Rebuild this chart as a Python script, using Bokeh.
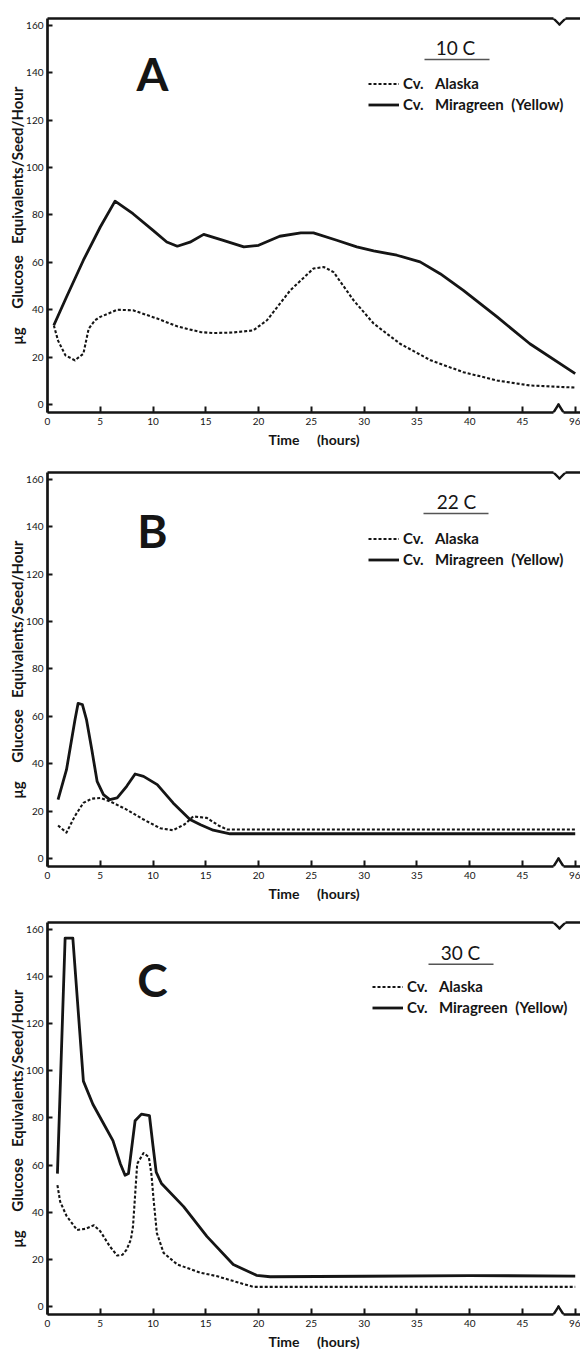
from bokeh.plotting import figure
from bokeh.models import (Range1d, FixedTicker, Label, Arrow, ColumnDataSource,
                          Legend, LegendItem, LinearAxis)
from bokeh.layouts import column
from bokeh.embed import file_html
from bokeh.resources import INLINE

# ---------------- data: hours -> ug glucose equivalents / seed / hour ----------------
a_alaska_h = [0.6, 1.0, 1.7, 2.6, 3.4, 3.9, 4.5, 5.0, 6.6, 8.1, 10.4, 12.3, 14.5, 15.7,
              17.5, 19.5, 20.8, 23.0, 25.2, 26.2, 27.1, 29.0, 30.9, 33.4, 36.3, 39.4,
              42.6, 45.7, 96]
a_alaska_v = [33.4, 27.0, 20.8, 18.7, 21.5, 32.0, 35.6, 37.0, 40.0, 39.8, 36.3, 33.0, 30.6,
              30.2, 30.4, 31.3, 35.6, 48.2, 57.4, 58.0, 55.9, 44.0, 34.2, 25.7, 18.7, 13.7,
              10.2, 8.1, 7.2]
a_mira_h = [0.6, 1.8, 3.4, 5.0, 6.4, 8.1, 10.0, 11.3, 12.3, 13.5, 14.8, 16.5, 18.6, 20.0,
            22.0, 24.0, 25.2, 27.4, 29.3, 30.9, 33.1, 35.3, 37.2, 39.4, 42.6, 45.7, 96]
a_mira_v = [33.5, 45.4, 60.9, 74.9, 85.8, 80.5, 73.5, 68.6, 66.8, 68.5, 71.8, 69.5, 66.5,
            67.2, 71.0, 72.4, 72.4, 69.3, 66.5, 64.8, 63.0, 60.2, 55.2, 48.2, 37.0, 25.7,
            13.1]

b_alaska_h = [1.0, 1.8, 2.6, 3.4, 4.2, 5.0, 5.9, 7.5, 9.1, 10.7, 11.9, 13.0, 13.8, 15.1,
              16.2, 17.0, 20.0, 96]
b_alaska_v = [14.0, 11.0, 18.0, 23.5, 25.3, 25.6, 24.2, 20.7, 16.5, 12.8, 12.0, 14.5, 17.8,
              17.2, 14.0, 12.3, 12.3, 12.3]
b_mira_h = [1.0, 1.8, 2.6, 2.9, 3.3, 3.7, 4.2, 4.7, 5.3, 5.9, 6.6, 7.5, 8.3, 9.1, 10.4,
            11.9, 13.5, 14.5, 15.7, 17.3, 20.0, 96]
b_mira_v = [24.9, 37.5, 58.5, 65.5, 65.0, 58.5, 45.9, 32.6, 27.0, 24.9, 25.6, 30.5, 35.7,
            34.7, 31.2, 23.5, 16.5, 14.3, 12.0, 10.5, 10.5, 10.5]

c_alaska_h = [0.94, 1.2, 1.8, 2.8, 3.6, 4.4, 5.0, 5.9, 6.6, 7.1, 7.5, 7.9, 8.1, 8.5, 9.1,
              9.6, 9.85, 10.04, 10.36, 11.0, 12.3, 14.5, 16.0, 19.5, 96]
c_alaska_v = [51.5, 44.5, 38.5, 32.5, 33.0, 34.5, 32.0, 25.6, 21.7, 22.0, 24.2, 28.5, 34.0,
              60.6, 65.1, 63.4, 56.0, 46.0, 31.2, 22.8, 17.9, 14.4, 13.0, 8.4, 8.4]
c_mira_h = [0.94, 1.67, 2.4, 3.4, 4.3, 5.2, 6.2, 6.9, 7.35, 7.67, 8.3, 8.9, 9.66, 10.0,
            10.3, 10.8, 12.9, 15.1, 17.6, 19.8, 21.1, 30.0, 40.0, 96]
c_mira_v = [56.4, 156.2, 156.2, 95.6, 85.8, 78.5, 70.4, 60.6, 55.7, 56.4, 78.8, 81.6, 81.0,
            68.0, 57.0, 52.2, 42.4, 29.8, 17.9, 13.3, 12.7, 12.9, 13.2, 13.0]

panel_letters = ["A", "B", "C"]
temperatures = ["10 C", "22 C", "30 C"]
series_names = ["Cv.\u2003Alaska", "Cv.\u2003Miragreen\u2002(Yellow)"]

x_ticks = [0, 5, 10, 15, 20, 25, 30, 35, 40, 45, 96]
y_ticks = [0, 20, 40, 60, 80, 100, 120, 140, 160]
x_title = "Time\u2003\u2002(hours)"
y_title = "\u03bcg\u2003\u2002Glucose\u2003Equivalents/Seed/Hour"

# ---------------- layout / style ----------------
FONT = "Lato"
INK = "#151515"
X_START, X_END = 0.0, 50.5
Y_START, Y_END = -3.3, 162.8
FRAME_W, FRAME_H = 533, 394
BORDER_LEFT = 47
BREAK_AT = 48.0
POS_96 = 50.0
EDGE_W = 2.7

PPX = FRAME_W / (X_END - X_START)
PPY = FRAME_H / (Y_END - Y_START)


def xpos(hours):
    return [h if h <= BREAK_AT else POS_96 for h in hours]


def dx(px):          # pixels from frame left -> data x
    return X_START + px / PPX


def dy(px):          # pixels from frame top -> data y
    return Y_END - px / PPY


def zig_source(pts):
    return ColumnDataSource(dict(
        x0=[dx(a[0]) for a in pts[:-1]], y0=[dy(a[1]) for a in pts[:-1]],
        x1=[dx(a[0]) for a in pts[1:]], y1=[dy(a[1]) for a in pts[1:]]))


# break marks (frame-relative pixels): top dips into the plot, bottom peaks up
TOP_ZIG = [(506, 0), (512, 6), (518, 0)]
BOT_ZIG = [(506, FRAME_H), (511, FRAME_H - 8), (516, FRAME_H)]

panel_cfg = [
    dict(top=18, bottom=43, title_x=408, title_y=28.5, ul=(377, 442, 41), leg_x=321,
         row1=65, letter_y=55),
    dict(top=17, bottom=39, title_x=409, title_y=29, ul=(376, 441, 41), leg_x=321,
         row1=66, letter_y=58),
    dict(top=17, bottom=36, title_x=413, title_y=30, ul=(381, 446, 42), leg_x=325,
         row1=66, letter_y=57),
]
data = [
    (a_alaska_h, a_alaska_v, a_mira_h, a_mira_v),
    (b_alaska_h, b_alaska_v, b_mira_h, b_mira_v),
    (c_alaska_h, c_alaska_v, c_mira_h, c_mira_v),
]


def make_panel(i):
    cfg = panel_cfg[i]
    ah, av, mh, mv = data[i]
    p = figure(width=BORDER_LEFT + FRAME_W, height=cfg["top"] + FRAME_H + cfg["bottom"],
               x_range=Range1d(X_START, X_END), y_range=Range1d(Y_START, Y_END),
               output_backend="svg", toolbar_location=None,
               min_border_left=BORDER_LEFT, min_border_right=0,
               min_border_top=cfg["top"], min_border_bottom=cfg["bottom"],
               background_fill_color="white", border_fill_color="white",
               outline_line_color=None)
    p.grid.visible = False

    r_a = p.line(xpos(ah), av, line_color=INK, line_width=2.1, line_dash="3 2",
                 line_join="round")
    r_m = p.line(xpos(mh), mv, line_color=INK, line_width=2.8, line_join="round")

    # x axis: bottom edge of the box, ticks pointing inward, gap at the axis break
    xa = p.xaxis[0]
    xa.ticker = FixedTicker(ticks=xpos(x_ticks))
    xa.major_label_overrides = {int(POS_96): "96"}
    xa.axis_line_color = INK
    xa.axis_line_width = EDGE_W
    xa.axis_line_dash = "%d %d" % (BOT_ZIG[0][0], BOT_ZIG[-1][0] - BOT_ZIG[0][0])
    xa.major_tick_in = 6
    xa.major_tick_out = 0
    xa.major_tick_line_width = 2
    xa.major_tick_line_color = INK
    xa.minor_tick_line_color = None
    xa.major_label_standoff = 5
    xa.major_label_text_font = FONT
    xa.major_label_text_font_size = "10px"
    xa.major_label_text_color = INK
    xa.axis_label = x_title
    xa.axis_label_text_font = FONT
    xa.axis_label_text_font_size = "14px"
    xa.axis_label_text_font_style = "bold"
    xa.axis_label_text_color = INK
    xa.axis_label_standoff = 3

    # top edge of the box as a bare axis line
    top = LinearAxis(ticker=FixedTicker(ticks=[]), axis_line_color=INK,
                     axis_line_width=EDGE_W,
                     axis_line_dash="%d %d" % (TOP_ZIG[0][0], TOP_ZIG[-1][0] - TOP_ZIG[0][0]),
                     major_tick_in=0, major_tick_out=0, minor_tick_in=0, minor_tick_out=0,
                     major_label_standoff=0, major_label_text_font_size="0px")
    p.add_layout(top, "above")

    ya = p.yaxis[0]
    ya.ticker = FixedTicker(ticks=y_ticks)
    ya.axis_line_width = EDGE_W
    ya.axis_line_color = INK
    ya.major_tick_in = 5
    ya.major_tick_out = 0
    ya.major_tick_line_width = 2
    ya.major_tick_line_color = INK
    ya.minor_tick_line_color = None
    ya.major_label_standoff = 4
    ya.major_label_text_font = FONT
    ya.major_label_text_font_size = "10px"
    ya.major_label_text_color = INK
    ya.axis_label = y_title
    ya.axis_label_text_font = FONT
    ya.axis_label_text_font_size = "15px"
    ya.axis_label_text_font_style = "bold"
    ya.axis_label_text_color = INK
    ya.axis_label_standoff = -3

    # axis-break zigzags
    for pts in (TOP_ZIG, BOT_ZIG):
        p.add_layout(Arrow(end=None, source=zig_source(pts), x_start="x0", y_start="y0",
                           x_end="x1", y_end="y1", line_color=INK, line_width=2.4,
                           line_cap="round", line_join="round"))

    # panel letter
    p.add_layout(Label(x=dx(105), y=dy(cfg["letter_y"]), text=panel_letters[i],
                       text_font=FONT, text_font_size="46px", text_font_style="bold",
                       text_color=INK, text_align="center", text_baseline="middle"))

    # legend header with underline
    p.add_layout(Label(x=dx(cfg["title_x"]), y=dy(cfg["title_y"]), text=temperatures[i],
                       text_font=FONT, text_font_size="19px", text_color=INK,
                       text_align="center", text_baseline="middle"))
    u0, u1, uy = cfg["ul"]
    p.add_layout(Arrow(end=None, x_start=dx(u0), y_start=dy(uy), x_end=dx(u1), y_end=dy(uy),
                       line_color="#555555", line_width=1.6))

    row_h, gap = 19, 2
    leg_top = cfg["row1"] - row_h / 2
    leg_h = 2 * row_h + gap
    legend = Legend(items=[LegendItem(label=series_names[0], renderers=[r_a]),
                           LegendItem(label=series_names[1], renderers=[r_m])],
                    location=(cfg["leg_x"], FRAME_H - leg_top - leg_h),
                    orientation="vertical", padding=0, margin=0, spacing=gap,
                    glyph_width=31, glyph_height=row_h, label_height=row_h,
                    label_standoff=4, label_text_font=FONT, label_text_font_size="15px",
                    label_text_font_style="bold", label_text_color=INK,
                    background_fill_alpha=0, border_line_color=None)
    p.add_layout(legend)
    return p


layout = column(*[make_panel(i) for i in range(3)])
open("out.html", "w").write(file_html(layout, INLINE))
